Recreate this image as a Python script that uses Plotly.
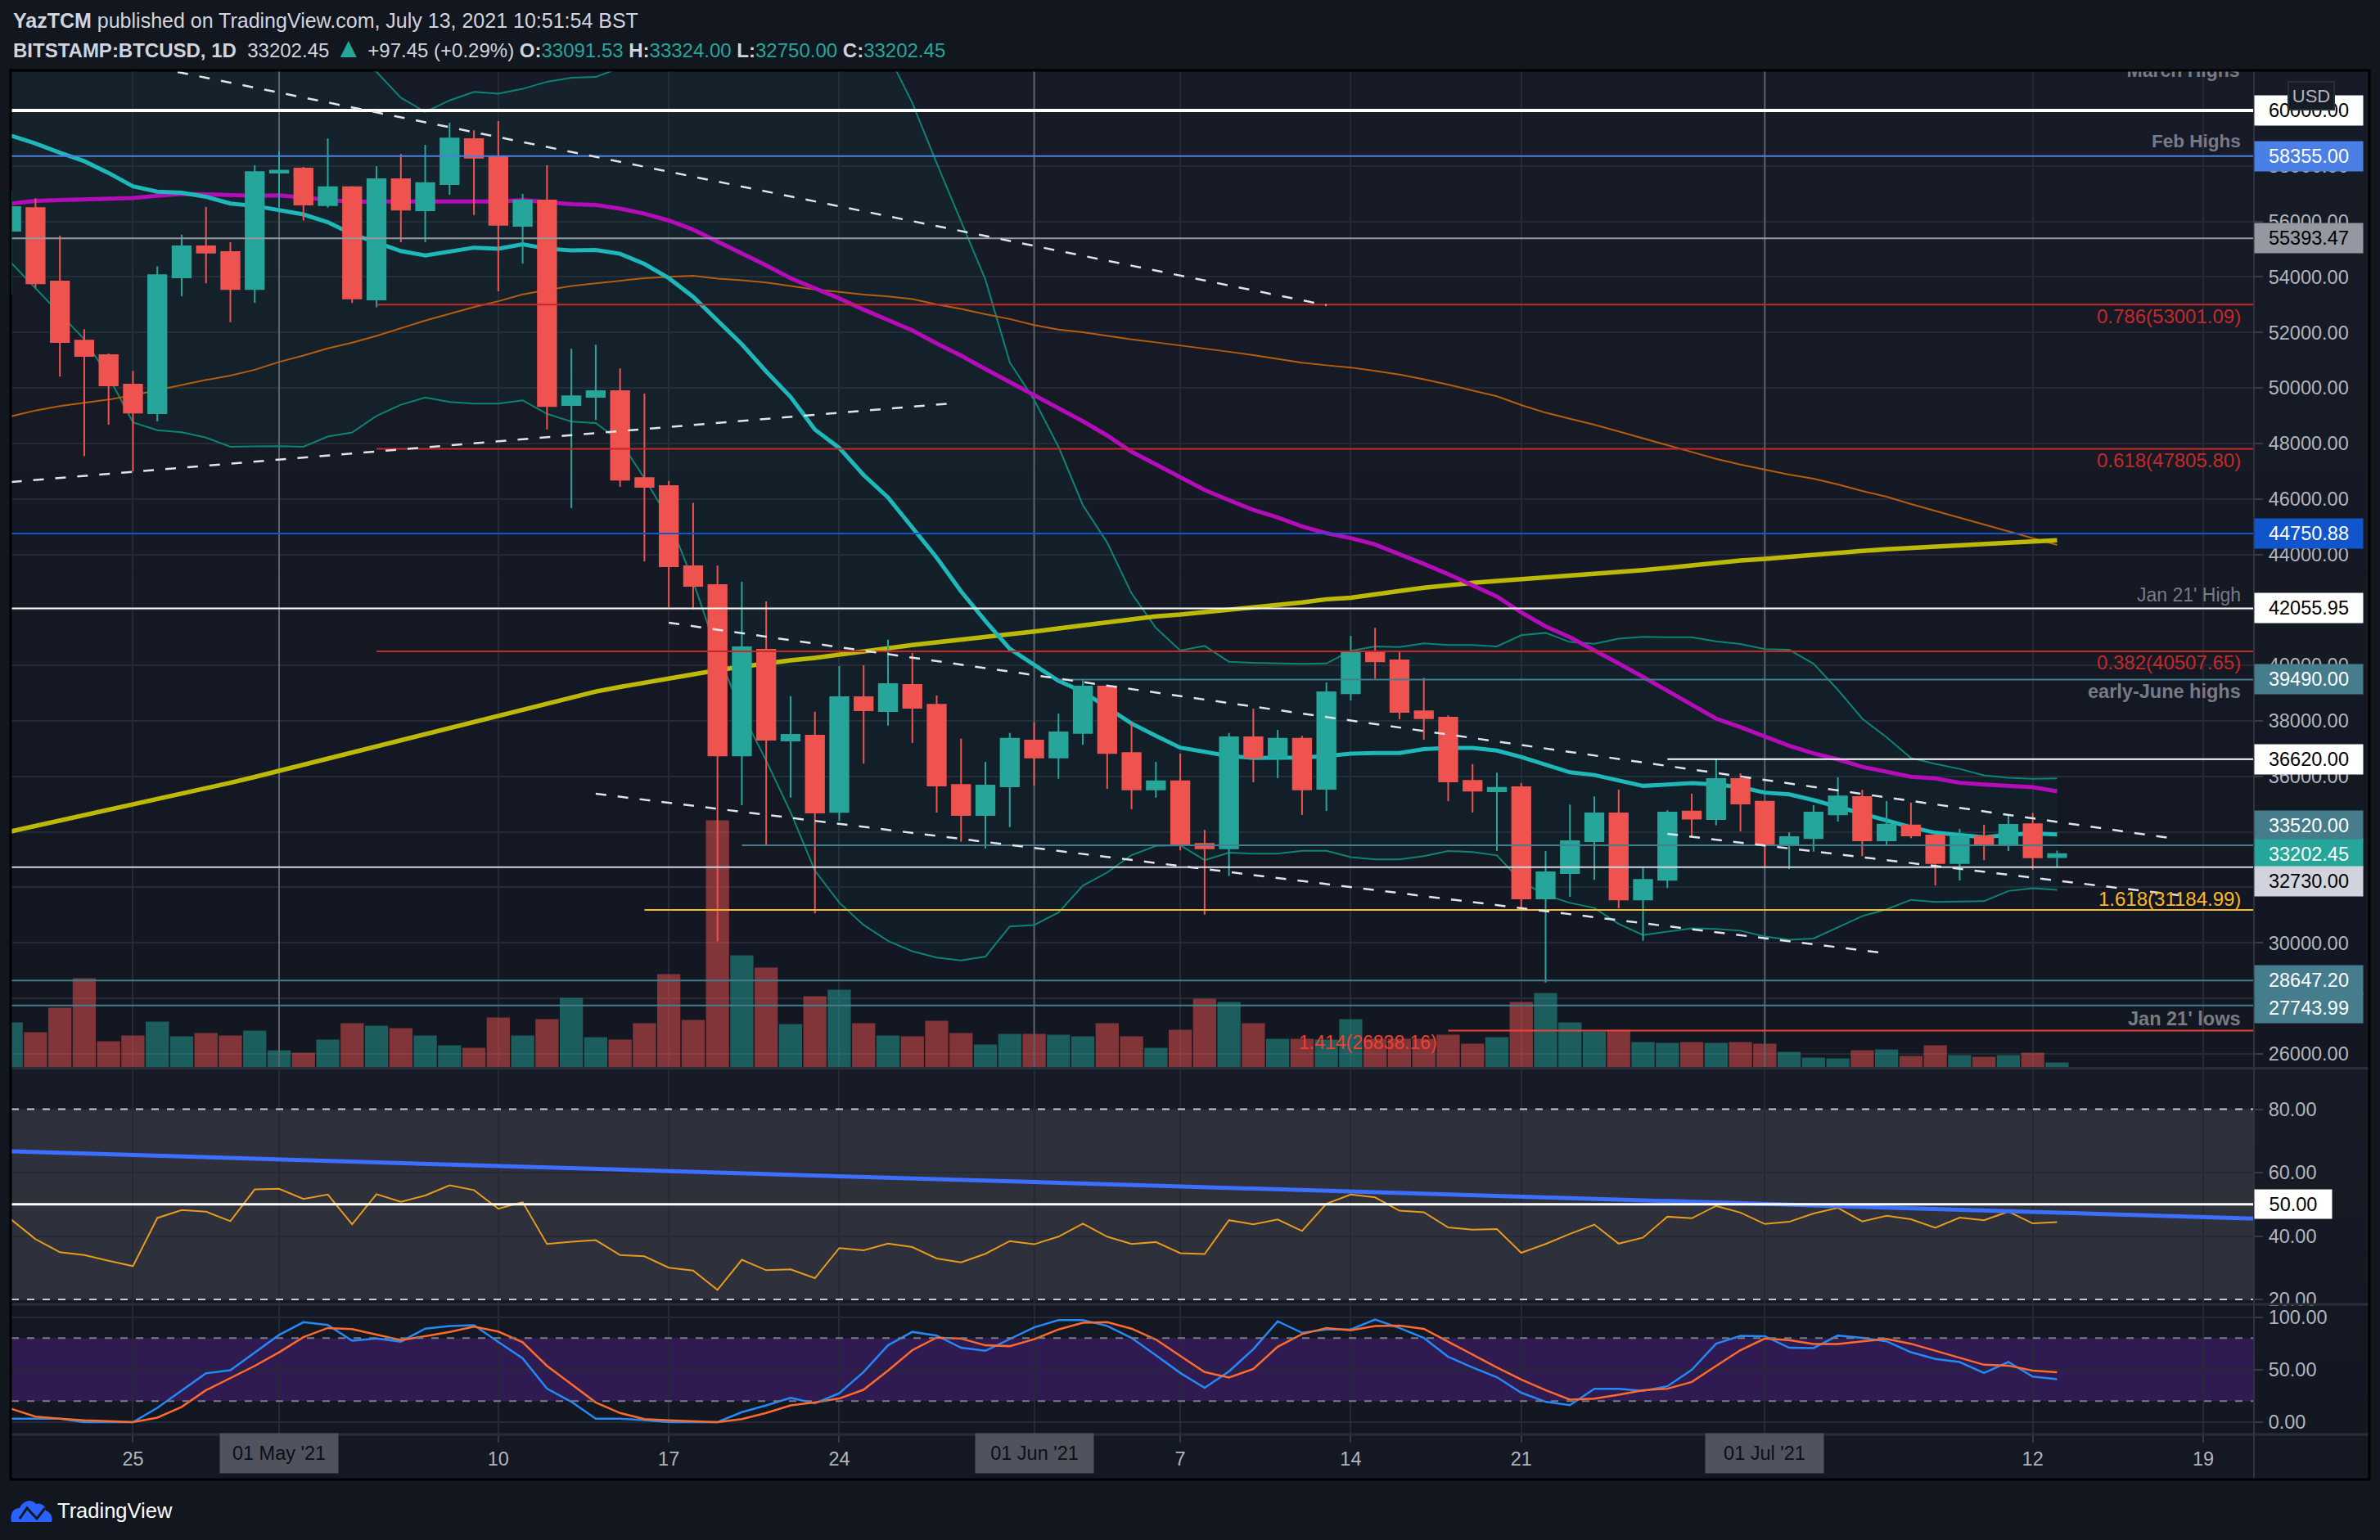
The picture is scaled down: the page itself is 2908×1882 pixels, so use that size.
import pandas as pd
import plotly.graph_objects as go

W, H = 2908, 1882

dates = pd.date_range("2021-04-20", "2021-07-13", freq="D")

# daily candles (Apr / May / Jun / Jul)
opens = [55667,56486,53833,51706,51180,50117,49090,53980,55105,54897,53565,
         57758,57905,56584,57232,53185,57526,56401,57342,58968,58333,55838,56755,49383,49677,49884,46754,46461,43573,42895,36757,40567,37294,37473,34723,38854,38355,39301,38585,35695,34608,35644,
         37294,36680,37562,39237,36846,35529,35823,33572,33406,37409,36680,37358,35550,38998,40489,40184,38350,38118,35843,35464,35611,31601,32518,33667,34670,31564,32273,34731,34462,35905,
         35086,33533,33777,34633,35257,33692,34230,33875,32873,33838,33520,34278,33091.53]
highs = [57110,56829,55484,52122,51241,50618,54384,55521,56523,55252,58027,
         58540,57966,58993,57269,57990,58430,58760,59555,59286,59616,56988,58027,51413,51559,50704,49799,46645,45862,43598,43010,42307,38892,38330,39979,40005,40925,40452,38918,37358,36526,37562,
         37946,38266,39468,39289,37933,36526,36821,34071,37562,38445,37677,37460,39389,41064,41357,40477,39548,38203,36443,36137,35758,33313,34988,35281,35526,32726,34780,35379,36614,36112,
         35086,33985,34963,35966,35513,35110,35049,33924,34107,34254,34609,34682,33324]
lows = [53369,53613,50410,47537,48674,46987,48797,53308,53772,52366,53063,
        56523,56034,56499,53063,52904,55252,55252,56963,56230,53479,54481,48503,45667,48845,46437,43752,42102,42025,30043,34966,33534,35235,31066,34404,36462,37831,37204,34698,33649,33406,34173,
        35670,35913,37140,35555,34813,35235,33330,31015,32409,35785,35938,34608,34755,38741,39523,38056,37323,35110,34694,33313,31234,28569,31662,32273,31246,30073,31980,33826,34230,34022,
        32701,32665,33288,34376,33129,33520,33777,32066,32249,32983,33313,32640,32750]
closes = [56523,53772,51657,51156,50092,49114,54066,55105,54873,53565,57782,
          57831,56609,57232,53222,57526,56425,57379,58993,58296,55875,56755,49347,49701,49884,46693,46437,43573,42869,36757,40657,37319,37498,34698,38854,38381,39327,38470,35670,34608,35670,37358,
          36680,37588,39237,36846,35529,35823,33534,33406,37409,36680,37358,35529,39034,40489,40147,38325,38093,35819,35489,35587,31601,32542,33667,34670,31564,32273,34694,34474,35905,35024,
          33533,33814,34694,35281,33692,34266,33875,32873,33838,33533,34254,33080,33202.45]
volumes = [5600,4400,7400,11000,3300,4000,5700,3900,4300,4000,4600,
           2200,1900,3500,5500,5200,4900,4000,2800,2500,6200,4000,6000,8600,3800,3500,5500,11500,5900,30300,13800,12300,5400,8800,9600,5500,4000,3900,5800,4300,2900,4200,
           4200,4100,3900,5500,3900,2500,4700,8500,8100,5500,3600,3600,3500,6000,3600,3600,3600,4100,3000,3800,8100,9200,5600,4500,4700,3200,3100,3200,3100,3200,
           3000,2000,1300,1200,2200,2300,1500,2800,1600,1400,1600,1900,700]

# moving averages and bollinger bands
bb_basis = [59091,58809,58479,58174,57746,57269,57073,57037,56890,56645,56560,
            56401,56254,55973,55545,55240,54934,54775,54934,55056,55019,55178,55019,54958,54970,54836,54469,53956,53283,52428,51572,50594,49677,48500,47838,46863,46051,44968,43885,42666,41600,40600,
            40018,39442,39058,38483,37908,37460,37038,36885,36731,36667,36667,36680,36731,36822,36846,36846,36980,37029,37029,36932,36700,36430,36149,36051,35856,35660,35709,35758,35709,35611,
            35416,35354,35147,34902,34633,34376,34169,33973,33899,33802,33899,33948,33912]
bb_upper = [64800,64700,64600,64400,64200,64000,63800,63600,63500,63300,63100,
            62900,62600,62200,61800,61389,60460,59946,60362,60668,60607,60778,61035,61181,61206,61536,62000,62900,63500,64200,64800,65200,65400,65200,64800,63700,62028,60268,58102,56003,53904,50925,
            49572,47879,45780,44426,42598,41353,40540,40703,40133,40094,40069,40056,40069,40529,40685,40661,40795,40734,40734,40685,41088,41174,40844,40783,40966,41027,41015,41015,40868,40771,
            40587,40563,40061,39120,38081,37408,36663,36455,36271,36039,35953,35917,35929]
bb_lower = [54506,53589,52672,51755,50410,48759,48478,48405,48209,47879,47891,
            47904,47879,48246,48393,48992,49395,49652,49493,49432,49432,49554,49065,48784,48735,48087,46743,45280,43023,40465,38291,36565,34710,32600,31450,30644,30069,29697,29468,29365,29506,30593,
            30644,31092,32063,32537,33163,33496,33521,32984,33253,33214,33214,33317,33317,33093,33007,33007,33129,33313,33276,33154,32213,31723,31442,31259,30684,30281,30403,30525,30501,30440,
            30232,30109,30158,30562,30965,31210,31552,31479,31491,31503,31870,31968,31907]
ma50 = [56645,56743,56768,56804,56829,56841,56927,56988,56976,56939,56927,
        56939,56866,56768,56707,56719,56707,56707,56719,56719,56719,56768,56682,56621,56597,56462,56279,56034,55704,55276,54873,54420,53956,53606,53227,52821,52456,52076,51602,51169,50682,50208,
        49775,49273,48800,48285,47703,47243,46769,46322,45956,45604,45334,45009,44765,44589,44359,44020,43660,43290,42886,42482,41908,41406,41015,40563,40074,39585,39096,38570,38081,37775,
        37445,37103,36834,36614,36345,36173,35990,35929,35770,35709,35648,35611,35464]
ma100 = [48979,49187,49346,49469,49579,49738,49921,50104,50288,50447,50655,
         50936,51168,51425,51633,51877,52146,52427,52672,52916,53124,53369,53528,53674,53772,53870,53955,54004,54041,53943,53882,53797,53674,53552,53457,53363,53295,53200,53011,52848,52659,52483,
         52266,52103,52009,51873,51751,51643,51535,51426,51304,51183,51047,50912,50817,50736,50614,50479,50310,50121,49904,49698,49383,49108,48892,48676,48430,48174,47938,47692,47447,47240,
         47064,46877,46729,46523,46287,46081,45815,45569,45324,45058,44832,44567,44341]
ma200 = [34020,34210,34400,34590,34780,34970,35160,35360,35560,35770,35980,
         36200,36420,36640,36860,37070,37280,37490,37700,37920,38140,38360,38600,38841,39059,39225,39378,39544,39672,39826,39954,40082,40184,40273,40376,40504,40619,40734,40823,40913,41015,41105,
         41220,41335,41450,41552,41655,41770,41833,41910,42025,42102,42179,42268,42383,42440,42540,42680,42798,42896,42974,43043,43102,43161,43220,43289,43358,43436,43515,43603,43711,43780,
         43839,43918,44006,44085,44124,44183,44223,44272,44321,44370,44419,44468,44510]

rsi = [45.2,39.0,34.9,34.0,32.2,30.5,45.7,48.2,47.7,44.7,54.7,
       54.9,51.7,53.1,43.7,53.2,50.8,52.8,56.0,54.5,48.6,50.7,37.5,38.2,38.7,34.0,33.6,30.0,29.1,23.0,32.5,29.2,29.5,26.7,36.2,35.5,37.6,36.5,32.9,31.7,34.4,38.4,
       37.4,39.8,43.9,39.8,37.5,38.1,34.6,34.3,45.0,43.7,45.2,41.6,50.2,53.1,52.2,48.0,47.5,42.7,42.0,42.2,34.7,37.5,40.7,43.6,37.6,39.5,46.1,45.6,49.5,47.4,
       43.8,44.5,47.1,48.9,44.6,46.4,45.3,42.6,45.8,45.0,47.7,44.0,44.4]
stoch_k = [3.2,3.2,3.2,0,0,0,13.6,30.4,46.5,49.4,65.9,
           83.0,95.1,92.5,77.5,79.5,76.6,89.0,91.4,92.2,76.3,60.7,31.8,19.4,3.2,3.2,2.0,0,0,0,9.5,15.9,23.1,17.9,27.5,47.7,73.1,85.9,82.4,70.8,67.9,78.9,
           90.2,97.1,97.1,91.6,80.1,63.6,46.8,32.7,48.3,69.4,96.0,85.0,88.2,88.2,97.7,89.6,80.1,62.2,52.0,42.8,28.0,19.4,16.2,31.8,31.8,29.8,34.1,49.7,74.6,82.1,
           81.8,70.8,70.5,82.4,80.1,76.9,66.5,60.1,57.2,46.8,57.2,43.4,40.8]
stoch_d = [12.7,5.2,3.2,1.7,0.9,0,4.3,14.5,30.4,41.9,53.5,
           66.5,80.9,89.6,88.5,83.3,78.1,81.8,85.9,90.8,86.2,76.0,53.5,36.1,18.8,8.7,2.9,1.7,0.6,0,2.9,8.7,15.9,18.8,22.5,30.9,49.1,68.5,80.4,79.5,73.1,72.3,
           78.9,88.2,94.5,95.1,89.0,78.6,63.0,47.7,42.5,50.6,71.7,83.8,89.6,87.3,91.4,91.9,88.8,76.6,64.2,52.0,40.5,30.4,21.4,22.3,26.0,30.4,31.8,38.2,53.5,68.5,
           79.5,78.1,74.3,74.3,76.9,79.2,74.6,67.9,61.3,54.6,53.8,49.1,47.4]

# horizontal levels: price, start date, colour, width
levels = [
    (60000, "2021-04-20", "#ffffff", 4),
    (58355, "2021-04-20", "#4a80e0", 2),
    (55393.47, "2021-04-20", "#9598a1", 2),
    (53001.09, "2021-05-05", "#c62828", 2),
    (47805.80, "2021-05-05", "#c62828", 2),
    (44750.88, "2021-04-20", "#1155cc", 2),
    (42055.95, "2021-04-20", "#ffffff", 2),
    (40507.65, "2021-05-05", "#c62828", 2),
    (39490, "2021-06-02", "#457d8c", 2),
    (36620, "2021-06-27", "#ffffff", 2),
    (33520, "2021-05-20", "#457d8c", 2),
    (32730, "2021-04-20", "#d1d4dc", 2),
    (31184.99, "2021-05-16", "#f9b826", 2),
    (28647.20, "2021-04-20", "#457d8c", 2),
    (27743.99, "2021-04-20", "#457d8c", 2),
    (26838.16, "2021-06-18", "#f44336", 2),
]

# dashed trend lines: start date, start price, end date, end price
trends = [
    ("2021-04-26 20:00", 61386, "2021-06-13 00:00", 52982),
    ("2021-04-20 00:00", 46611, "2021-05-28 14:00", 49443),
    ("2021-05-17 00:00", 41539, "2021-07-17 20:00", 33754),
    ("2021-05-14 00:00", 35376, "2021-07-06 00:00", 29625),
    ("2021-06-27 00:00", 33931, "2021-07-18 00:00", 31719),
]

# price axis boxes: text, price, fill, text colour, pixel shift from true price
price_boxes = [
    ("60000.00", 60000, "#ffffff", "#000000", 0),
    ("58355.00", 58355, "#4a80e6", "#ffffff", 0),
    ("55393.47", 55393.47, "#9598a1", "#000000", 0),
    ("44750.88", 44750.88, "#1155cc", "#ffffff", 0),
    ("42055.95", 42055.95, "#ffffff", "#000000", 0),
    ("39490.00", 39490, "#457d8c", "#ffffff", 0),
    ("36620.00", 36620, "#ffffff", "#000000", 0),
    ("33520.00", 33520, "#457d8c", "#ffffff", 24),
    ("33202.45", 33202.45, "#26a69a", "#ffffff", 0),
    ("32730.00", 32730, "#d1d4dc", "#000000", -17),
    ("28647.20", 28647.20, "#457d8c", "#ffffff", 0),
    ("27743.99", 27743.99, "#457d8c", "#ffffff", -3),
]

# notes next to the levels: text, price of text centre, colour, bold, size
notes = [
    ("Feb Highs", 58880, "#787b86", True, 22.5),
    ("0.786(53001.09)", 52590, "#c62828", False, 24),
    ("0.618(47805.80)", 47400, "#c62828", False, 24),
    ("Jan 21' High", 42540, "#787b86", False, 23),
    ("0.382(40507.65)", 40100, "#c62828", False, 24),
    ("early-June highs", 39050, "#787b86", True, 23.5),
    ("1.618(31184.99)", 31600, "#f9b826", False, 24),
    ("Jan 21' lows", 27260, "#787b86", True, 23.5),
]

price_ticks = list(range(26000, 62000, 2000))
hidden_ticks = [28000, 32000, 34000, 42000, 60000]  # sit fully behind a price box
price_labels = ["" if v in hidden_ticks else "%d.00" % v for v in price_ticks]

time_ticks = ["2021-04-25", "2021-05-01", "2021-05-10", "2021-05-17", "2021-05-24", "2021-06-01",
              "2021-06-07", "2021-06-14", "2021-06-21", "2021-07-01", "2021-07-12", "2021-07-19"]
time_labels = ["25", "", "10", "17", "24", "", "7", "14", "21", "", "12", "19"]
month_boxes = [("2021-05-01", "01 May '21"), ("2021-06-01", "01 Jun '21"), ("2021-07-01", "01 Jul '21")]

UP, DOWN = "#26a69a", "#ef5350"
GRID = "#252934"
TICK = "#b2b5be"
FONT = "Liberation Sans"
X_END = "2021-07-21 02:00"


def px(x):
    return x / W


def py(y):
    return 1 - y / H


left, right = 14, 2754
price_top, price_bot = 87, 1305.6
rsi_bot, stoch_bot = 1594, 1753
frame_right, frame_bot = 2895, 1808
price_range = [25479, 61415]

fig = go.Figure()

# volume sits on the base axis so everything else draws over it
vol_colors = ["rgba(38,166,154,0.5)" if c >= o else "rgba(239,83,80,0.5)" for o, c in zip(opens, closes)]
fig.add_trace(go.Bar(x=dates, y=volumes, marker=dict(color=vol_colors, line_width=0), yaxis="y", hoverinfo="skip"))

# month lines stay behind the candles
for d, _ in month_boxes:
    fig.add_trace(go.Scatter(x=[d, d], y=price_range, mode="lines", line=dict(color="#5d606b", width=2), yaxis="y2", hoverinfo="skip"))

fig.add_trace(go.Scatter(x=dates, y=bb_upper, mode="lines", line=dict(color="#0b8476", width=2), yaxis="y2", hoverinfo="skip"))
fig.add_trace(go.Scatter(x=dates, y=bb_lower, mode="lines", line=dict(color="#0b8476", width=2), fill="tonexty",
                         fillcolor="rgba(0,150,136,0.06)", yaxis="y2", hoverinfo="skip"))
fig.add_trace(go.Scatter(x=dates, y=ma100, mode="lines", line=dict(color="#b85c0c", width=2), yaxis="y2", hoverinfo="skip"))
fig.add_trace(go.Scatter(x=dates, y=ma200, mode="lines", line=dict(color="#bcb909", width=5.5), yaxis="y2", hoverinfo="skip"))
fig.add_trace(go.Scatter(x=dates, y=ma50, mode="lines", line=dict(color="#b30cb8", width=5), yaxis="y2", hoverinfo="skip"))
fig.add_trace(go.Scatter(x=dates, y=bb_basis, mode="lines", line=dict(color="#1eb8ba", width=5), yaxis="y2", hoverinfo="skip"))

fig.add_trace(go.Candlestick(
    x=dates, open=opens, high=highs, low=lows, close=closes, yaxis="y3", whiskerwidth=0,
    increasing=dict(line=dict(color=UP, width=2), fillcolor=UP),
    decreasing=dict(line=dict(color=DOWN, width=2), fillcolor=DOWN),
    hoverinfo="skip",
))

for price, start, color, width in levels:
    fig.add_trace(go.Scatter(x=[start, X_END], y=[price, price], mode="lines",
                             line=dict(color=color, width=width), yaxis="y3", hoverinfo="skip"))

for x0, y0, x1, y1 in trends:
    fig.add_trace(go.Scatter(x=[x0, x1], y=[y0, y1], mode="lines",
                             line=dict(color="#e0e3eb", width=2.5, dash="13px,14px"), yaxis="y3", hoverinfo="skip"))

# clipped by the top of the pane, as in the original
fig.add_trace(go.Scatter(x=["2021-07-20 12:00"], y=[61390], mode="text", text=["<b>March Highs</b>"],
                         textposition="middle left", textfont=dict(color="#787b86", size=23, family=FONT),
                         cliponaxis=True, yaxis="y3", hoverinfo="skip"))

# RSI pane
fig.add_trace(go.Scatter(x=dates, y=rsi, mode="lines", line=dict(color="#e89a1a", width=2), yaxis="y4", hoverinfo="skip"))
fig.add_trace(go.Scatter(x=["2021-04-20", X_END], y=[66.7, 45.5], mode="lines",
                         line=dict(color="#3d6fff", width=5), yaxis="y4", hoverinfo="skip"))
fig.add_trace(go.Scatter(x=["2021-04-20", X_END], y=[50, 50], mode="lines",
                         line=dict(color="#ffffff", width=3), yaxis="y4", hoverinfo="skip"))

# stochastic pane
fig.add_trace(go.Scatter(x=dates, y=stoch_k, mode="lines", line=dict(color="#2389f7", width=2.5), yaxis="y5", hoverinfo="skip"))
fig.add_trace(go.Scatter(x=dates, y=stoch_d, mode="lines", line=dict(color="#ff6a2b", width=2.5), yaxis="y5", hoverinfo="skip"))

shapes = []


def band(x0, x1, y0, y1, color):
    shapes.append(dict(type="rect", xref="paper", yref="paper", x0=px(x0), x1=px(x1), y0=py(y0), y1=py(y1),
                       fillcolor=color, line_width=0, layer="below"))


# soft vertical gradient behind the panes
def gradient(y0, y1, top=(23, 27, 39), bottom=(19, 23, 34), steps=10):
    for i in range(steps):
        t = i / (steps - 1)
        c = [round(a + (b - a) * t) for a, b in zip(top, bottom)]
        band(left, frame_right, y0 + (y1 - y0) * i / steps, y0 + (y1 - y0) * (i + 1) / steps + 1, "rgb(%d,%d,%d)" % tuple(c))


gradient(price_top, price_bot)
gradient(price_bot, stoch_bot)
band(left, frame_right, stoch_bot, frame_bot, "#141823")

shapes.append(dict(type="rect", xref="paper", yref="y4", x0=px(left), x1=px(right), y0=20, y1=80,
                   fillcolor="#2e303b", line_width=0, layer="below"))
shapes.append(dict(type="rect", xref="paper", yref="y5", x0=px(left), x1=px(right), y0=20, y1=80,
                   fillcolor="#2f1a52", line_width=0, layer="below"))
for level in [20, 80]:
    shapes.append(dict(type="line", xref="paper", yref="y4", x0=px(left), x1=px(right), y0=level, y1=level,
                       line=dict(color="#c9ccd4", width=2, dash="9px,10px")))
    shapes.append(dict(type="line", xref="paper", yref="y5", x0=px(left), x1=px(right), y0=level, y1=level,
                       line=dict(color="#787b86", width=2, dash="9px,10px")))

# pane separators and outer frame
for y in [price_bot, rsi_bot, stoch_bot]:
    shapes.append(dict(type="line", xref="paper", yref="paper", x0=px(left), x1=px(frame_right), y0=py(y), y1=py(y),
                       line=dict(color="#2a2e39", width=3)))
shapes.append(dict(type="line", xref="paper", yref="paper", x0=px(right), x1=px(right), y0=py(price_top), y1=py(frame_bot),
                   line=dict(color="#2f333e", width=2)))
shapes.append(dict(type="rect", xref="paper", yref="paper", x0=px(13), x1=px(frame_right), y0=py(86), y1=py(frame_bot),
                   line=dict(color="#000000", width=3)))

# TradingView logo
shapes.append(dict(type="path", xref="paper", yref="paper", fillcolor="#2962ff", line_width=0,
                   path="M %f,%f C %f,%f %f,%f %f,%f C %f,%f %f,%f %f,%f C %f,%f %f,%f %f,%f C %f,%f %f,%f %f,%f Z" % (
                       px(14), py(1860), px(12), py(1850), px(16), py(1843), px(24), py(1843),
                       px(27), py(1835), px(38), py(1830), px(44), py(1838),
                       px(50), py(1836), px(56), py(1840), px(56), py(1846),
                       px(62), py(1848), px(65), py(1854), px(63), py(1860))))
shapes.append(dict(type="path", xref="paper", yref="paper",
                   path="M %f,%f L %f,%f L %f,%f L %f,%f" % (px(24), py(1856), px(33), py(1843), px(45), py(1856), px(55), py(1843)),
                   line=dict(color="#131722", width=3)))

annotations = []


def header(text, y, size, x=14):
    annotations.append(dict(text=text, xref="paper", yref="paper", x=px(x), y=py(y), xanchor="left", yanchor="middle",
                            showarrow=False, font=dict(color="#d1d4dc", size=size, family=FONT)))


G = '<span style="color:%s">' % UP
header('<b>YazTCM</b> published on TradingView.com, July 13, 2021 10:51:54 BST', 25, 25)
header('<b>BITSTAMP:BTCUSD, 1D</b>  33202.45 <span style="color:%s;font-size:34px">▲</span> +97.45 (+0.29%%) <b>O:</b>' % UP + G + '33091.53</span> <b>H:</b>' + G
       + '33324.00</span> <b>L:</b>' + G + '32750.00</span> <b>C:</b>' + G + '33202.45</span>', 58, 24)
header('<span style="color:#ffffff">TradingView</span>', 1846, 25.5, x=68)

for text, price, fill, color, shift in price_boxes:
    annotations.append(dict(text=text, xref="paper", yref="y3", x=px(right), y=price, yshift=shift, xanchor="left",
                            yanchor="middle", showarrow=False, width=130, height=34, bgcolor=fill, align="center",
                            font=dict(color=color, size=23.5, family=FONT)))

annotations.append(dict(text="USD", xref="paper", yref="paper", x=px(2824), y=py(117), xanchor="center", yanchor="middle",
                        showarrow=False, width=52, height=30, bgcolor="#171b26", bordercolor="#2a2e39", borderwidth=2,
                        font=dict(color=TICK, size=22, family=FONT)))
annotations.append(dict(text="50.00", xref="paper", yref="y4", x=px(right), y=50, xanchor="left", yanchor="middle",
                        showarrow=False, width=92, height=33, bgcolor="#ffffff", font=dict(color="#000000", size=23.5, family=FONT)))

for text, price, color, bold, size in notes:
    annotations.append(dict(text="<b>%s</b>" % text if bold else text, xref="paper", yref="y3", x=px(2740), y=price,
                            xanchor="right", yanchor="middle", showarrow=False, font=dict(color=color, size=size, family=FONT)))
annotations.append(dict(text="1.414(26838.16)", xref="paper", yref="y3", x=px(1758), y=26400, xanchor="right", yanchor="middle",
                        showarrow=False, font=dict(color="#f23e2e", size=23, family=FONT)))

for d, text in month_boxes:
    annotations.append(dict(text=text, xref="x", yref="paper", x=d, y=py(1776), xanchor="center", yanchor="middle",
                            showarrow=False, width=142, height=46, bgcolor="#50535e", font=dict(color="#0c0e14", size=23.5, family=FONT)))

right_axis = dict(side="right", anchor="x", tickmode="array", tickfont=dict(color=TICK, size=23.5, family=FONT),
                  ticks="outside", ticklen=10, tickcolor="#363a45", tickwidth=2, showgrid=True, gridcolor=GRID, gridwidth=2,
                  zeroline=False, showline=False, ticklabelstandoff=2)

fig.update_layout(
    width=W, height=H, margin=dict(l=0, r=0, t=0, b=0, autoexpand=False), showlegend=False,
    paper_bgcolor="#12161f", plot_bgcolor="rgba(0,0,0,0)",
    boxgap=0.25, boxgroupgap=0, bargap=0.05, hovermode=False,
    shapes=shapes, annotations=annotations,
    xaxis=dict(domain=[px(left), px(right)], range=["2021-04-20 00:17", X_END], type="date", anchor="y5",
               rangeslider=dict(visible=False), tickmode="array", tickvals=time_ticks, ticktext=time_labels,
               tickfont=dict(color=TICK, size=23.5, family=FONT), ticks="outside", ticklen=9, tickcolor="#363a45", tickwidth=2,
               showgrid=True, gridcolor=GRID, gridwidth=2, zeroline=False, showline=False),
    yaxis=dict(domain=[py(price_bot), py(price_top)], range=[0, 121860], visible=False, showgrid=False, zeroline=False, anchor="x"),
    yaxis2=dict(domain=[py(price_bot), py(price_top)], range=price_range, overlaying="y", visible=False, showgrid=False,
                zeroline=False, anchor="x"),
    yaxis3=dict(domain=[py(price_bot), py(price_top)], range=price_range, overlaying="y",
                tickvals=price_ticks, ticktext=price_labels, **right_axis),
    yaxis4=dict(domain=[py(rsi_bot), py(price_bot)], range=[18.45, 92.9], tickvals=[20, 40, 60, 80], tickformat=".2f", **right_axis),
    yaxis5=dict(domain=[py(stoch_bot), py(rsi_bot)], range=[-11.7, 112.1], tickvals=[0, 50, 100], tickformat=".2f", **right_axis),
)

# no body margin and no page overflow, so the page is exactly the figure
fix_page = ("document.body.style.margin='0px';document.body.style.height='%dpx';"
            "document.body.style.overflow='hidden';document.documentElement.style.overflow='hidden';" % H)
fig.write_html("out.html", post_script=fix_page, config={"displayModeBar": False})
